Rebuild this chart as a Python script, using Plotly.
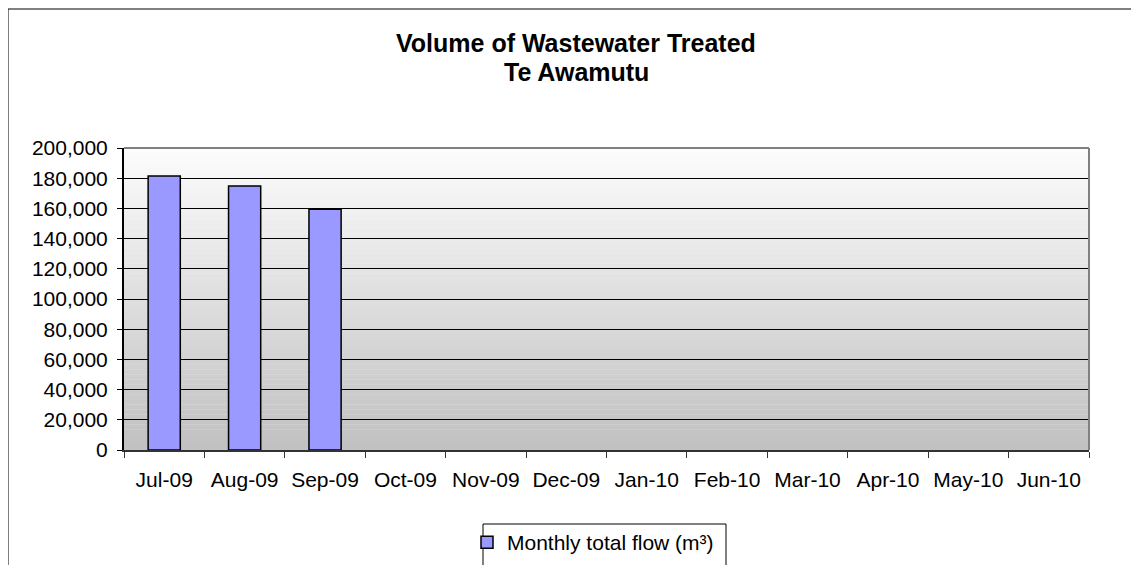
import plotly.graph_objects as go

months = ["Jul-09", "Aug-09", "Sep-09", "Oct-09", "Nov-09", "Dec-09",
          "Jan-10", "Feb-10", "Mar-10", "Apr-10", "May-10", "Jun-10"]
flow = [181500, 174800, 159500, None, None, None, None, None, None, None, None, None]
y_ticks = [0, 20000, 40000, 60000, 80000, 100000, 120000, 140000, 160000, 180000, 200000]
series_name = "Monthly total flow (m³)"
title_lines = ["Volume of Wastewater Treated", "Te Awamutu"]

OFF = 8  # default page body margin
W, H = 1139 - OFF, 565 - OFF
L, R, T, B = 124, 1089, 148, 450   # plot area in screen pixels
PW, PH = R - L, B - T

def px_x(x):
    return (x - L) / PW

def px_y(y):
    return (B - y) / PH

FONT = "Liberation Sans, Arial, sans-serif"

fig = go.Figure()
fig.add_trace(go.Bar(
    x=months, y=flow, name=series_name, width=0.4,
    marker=dict(color="#9999ff", line=dict(color="#000000", width=1.5)),
    showlegend=True,
))

shapes = []
n = 60
for i in range(n):
    t = (i + 0.5) / n
    v = int(round(253 - (253 - 192) * t))
    shapes.append(dict(type="rect", xref="x domain", yref="y domain",
                       x0=0, x1=1, y0=1 - (i + 1) / n, y1=1 - i / n + 0.001,
                       fillcolor=f"rgb({v},{v},{v})", line=dict(width=0), layer="below"))
shapes.append(dict(type="line", xref="x domain", yref="y domain", x0=0, x1=1, y0=1, y1=1,
                   line=dict(color="#808080", width=2), layer="above"))
shapes.append(dict(type="line", xref="x domain", yref="y domain", x0=1, x1=1, y0=0, y1=1,
                   line=dict(color="#808080", width=2), layer="above"))
shapes.append(dict(type="rect", xref="paper", yref="paper",
                   x0=px_x(8), x1=px_x(1170), y0=px_y(620), y1=px_y(9),
                   line=dict(color="#000000", width=1), fillcolor="rgba(0,0,0,0)", layer="below"))
shapes.append(dict(type="rect", xref="paper", yref="paper",
                   x0=px_x(483), x1=px_x(726), y0=px_y(620), y1=px_y(524),
                   line=dict(color="#000000", width=1), fillcolor="#ffffff", layer="below"))

annotations = [
    dict(text=f"<b>{title_lines[0]}</b>", xref="paper", yref="paper", x=px_x(576), y=px_y(43),
         xanchor="center", yanchor="middle", showarrow=False,
         font=dict(family=FONT, size=25, color="#000000")),
    dict(text=f"<b>{title_lines[1]}</b>", xref="paper", yref="paper", x=px_x(576), y=px_y(72),
         xanchor="center", yanchor="middle", showarrow=False,
         font=dict(family=FONT, size=25, color="#000000")),
]

fig.update_layout(
    width=W, height=H,
    margin=dict(l=L - OFF, r=1139 - R, t=T - OFF, b=565 - B, pad=0, autoexpand=False),
    paper_bgcolor="#ffffff", plot_bgcolor="rgba(0,0,0,0)",
    font=dict(family=FONT, size=21, color="#000000"),
    shapes=shapes, annotations=annotations,
    legend=dict(x=px_x(467), y=px_y(522), xanchor="left", yanchor="top",
                bgcolor="rgba(0,0,0,0)", borderwidth=0,
                font=dict(family=FONT, size=21, color="#000000"),
                itemwidth=30),
)
fig.update_xaxes(
    type="category", categoryorder="array", categoryarray=months,
    range=[-0.5, 11.5], showgrid=False, automargin=False,
    showline=True, linecolor="#333333", linewidth=2,
    ticks="outside", tickson="boundaries", ticklen=6, tickcolor="#333333", tickwidth=1,
    tickfont=dict(family=FONT, size=21), ticklabelstandoff=10,
)
fig.update_yaxes(
    range=[0, 200000], tickvals=y_ticks, tickformat=",d", automargin=False,
    showgrid=True, gridcolor="#000000", gridwidth=1,
    showline=True, linecolor="#000000", linewidth=2,
    ticks="outside", ticklen=5, tickcolor="#000000", tickwidth=1,
    tickfont=dict(family=FONT, size=21), ticklabelstandoff=5,
    zeroline=False,
)

fig.write_html("out.html")
